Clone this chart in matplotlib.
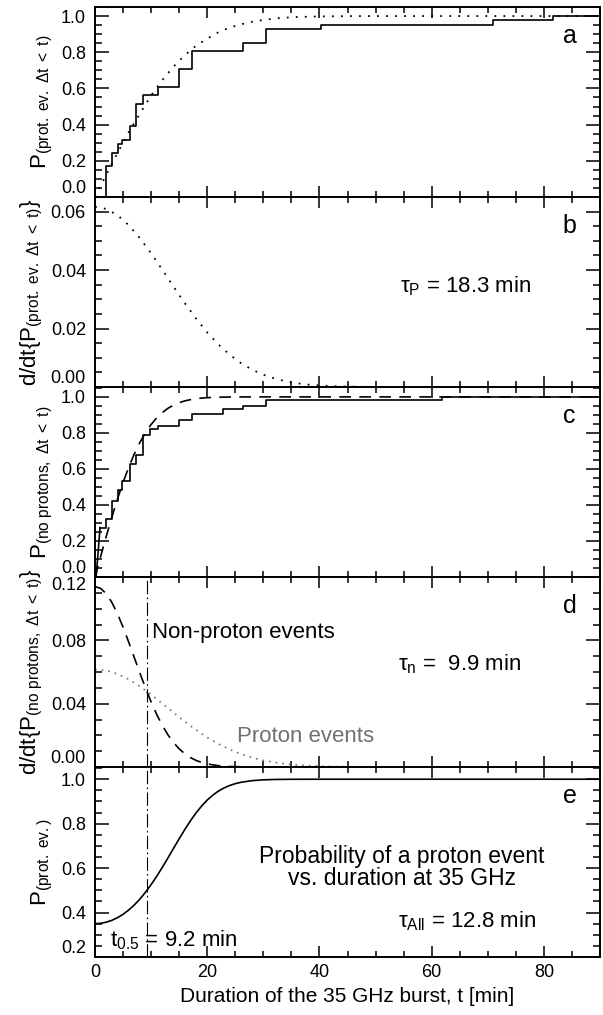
import matplotlib
matplotlib.use("Agg")
import matplotlib.pyplot as plt
from matplotlib.ticker import MultipleLocator

plt.rcParams['font.family'] = ['Liberation Sans', 'DejaVu Sans']
plt.rcParams['mathtext.fontset'] = 'custom'
plt.rcParams['mathtext.rm'] = 'Liberation Sans'
plt.rcParams['mathtext.it'] = 'Liberation Sans:italic'
plt.rcParams['mathtext.bf'] = 'Liberation Sans:bold'

# --- empirical distributions (step functions) ---
# proton events: duration where the cumulative count rises, count after the step
prot_t = [1.96, 3.0, 4.1, 4.8, 6.3, 7.35, 8.55, 11.3, 15.0, 17.2, 26.4, 30.4, 40.3, 71.0, 81.6]
prot_n = [7, 10, 12, 13, 16, 21, 23, 25, 29, 33, 35, 38, 39, 40, 41]
n_prot = 41

# non-proton events
nonp_t = [0.9, 1.96, 3.0, 4.1, 4.8, 6.3, 7.35, 8.55, 9.8, 11.3, 15.0, 17.2, 22.9, 26.4, 30.4, 61.8]
nonp_n = [17, 20, 26, 30, 33, 39, 42, 49, 51, 52, 54, 56, 58, 59, 61, 62]
n_nonp = 62

# --- fitted curves ---
cdf_p_t = [0, 1, 2, 3, 4, 6, 8, 10, 12, 14, 16, 18, 20, 22, 24, 26, 28, 30, 33, 36, 40, 45, 50, 60, 90]
cdf_p = [0, 0.0616, 0.1228, 0.1833, 0.2428, 0.3571, 0.4603, 0.5610, 0.6462, 0.7207, 0.7837, 0.8357,
         0.8753, 0.9108, 0.9364, 0.9541, 0.9684, 0.9784, 0.9893, 0.9946, 0.9979, 0.9995, 0.9999, 1.0, 1.0]

pdf_p_t = [0, 2, 4, 6, 8, 10, 12, 14, 16, 18, 20, 22, 24, 26, 28, 30, 32, 34, 36, 38, 40, 44, 48]
pdf_p = [0.06166, 0.06093, 0.05878, 0.05538, 0.05093, 0.04573, 0.04010, 0.03432, 0.02869, 0.02343,
         0.01867, 0.01453, 0.01105, 0.00819, 0.00592, 0.00419, 0.00289, 0.00195, 0.00128, 0.00082,
         0.00052, 0.00019, 0.00006]

cdf_n_t = [0, 1, 2, 3, 4, 5, 6, 7, 8, 9, 10, 11, 12, 13, 14, 15, 16, 17, 18, 19, 20, 22, 24, 27, 30, 90]
cdf_n = [0, 0.1136, 0.2249, 0.3318, 0.4323, 0.5249, 0.6086, 0.6827, 0.7469, 0.8014, 0.8468, 0.8839,
         0.9130, 0.9367, 0.9545, 0.9679, 0.9778, 0.9848, 0.9899, 0.9934, 0.9957, 0.9983, 0.9994,
         0.9999, 1.0, 1.0]

pdf_n_t = [0, 1, 2, 3, 4, 5, 6, 7, 8, 9, 10, 11, 12, 13, 14, 15, 16, 17, 18, 19, 20, 22, 24, 26, 28, 30]
pdf_n = [0.11398, 0.11282, 0.10942, 0.10398, 0.09681, 0.08831, 0.07894, 0.06914, 0.05932, 0.04988,
         0.04109, 0.03316, 0.02623, 0.02032, 0.01543, 0.01148, 0.00837, 0.00598, 0.00418, 0.00287,
         0.00193, 0.00082, 0.00032, 0.00012, 0.00004, 0.00001]

prob_t = [0, 1, 2, 3, 4, 5, 6, 7, 8, 9, 10, 11, 12, 13, 14, 15, 16, 17, 18, 19, 20, 21, 22, 23, 24,
          25, 26, 28, 30, 32, 35, 40, 90]
prob = [0.350, 0.3516, 0.3566, 0.3649, 0.3768, 0.3921, 0.4112, 0.4340, 0.4608, 0.4914, 0.5257,
        0.5632, 0.6035, 0.6458, 0.6891, 0.7320, 0.7736, 0.8126, 0.8480, 0.8793, 0.9062, 0.9285,
        0.9465, 0.9608, 0.9717, 0.9800, 0.9861, 0.9936, 0.9972, 0.9989, 0.9997, 1.0, 1.0]

t_half = 9.2

fig = plt.figure(figsize=(6.03, 10.15), dpi=100)
gs = fig.add_gridspec(5, 1, left=95/603, right=600/603, top=1-7/1015, bottom=1-957/1015, hspace=0)
axes = [fig.add_subplot(gs[i]) for i in range(5)]

ylims = [(0, 1.05), (0, 0.065), (0, 1.055), (0, 0.12), (0.2, 1.055)]
ymaj = [0.2, 0.02, 0.2, 0.04, 0.2]
ymin = [0.05, 0.005, 0.05, 0.01, 0.05]
yfmt = ['%.1f', '%.2f', '%.1f', '%.2f', '%.1f']
letters = ['a', 'b', 'c', 'd', 'e']

sub_p = r'$_{\rm (prot.\ ev.\ Δt\ <\ t)}$'
sub_n = r'$_{\rm (no\ protons,\ Δt\ <\ t)}$'
ylabels = ['P' + sub_p, 'd/dt{P' + sub_p + '}', 'P' + sub_n, 'd/dt{P' + sub_n + '}',
           r'P$_{\rm (prot.\ ev.)}$']

for i, ax in enumerate(axes):
    ax.set_xlim(0, 90)
    ax.set_ylim(*ylims[i])
    ax.xaxis.set_major_locator(MultipleLocator(20))
    ax.xaxis.set_minor_locator(MultipleLocator(5))
    ax.yaxis.set_major_formatter(matplotlib.ticker.FormatStrFormatter(yfmt[i]))
    ax.tick_params(which='both', direction='in', top=True, right=True, width=1.1)
    ax.tick_params(axis='x', which='major', length=8)
    ax.tick_params(axis='x', which='minor', length=4)
    ax.tick_params(axis='y', which='major', length=10, pad=6.5, labelsize=13)
    ax.tick_params(axis='y', which='minor', length=5)
    ax.tick_params(axis='x', labelsize=13, pad=5)
    for s in ax.spines.values():
        s.set_linewidth(1.4)
    if i < 4:
        ax.tick_params(axis='x', labelbottom=False)
    ax.set_ylabel(ylabels[i], fontsize=16, labelpad=4)
    ax.text(0.94, 0.845, letters[i], transform=ax.transAxes, fontsize=18, ha='center', va='center')

    # fixed y ticks; edge labels kept inside each panel
    lo, hi = ylims[i]
    ticks = [round(lo + k * ymaj[i], 4) for k in range(int((hi - lo) / ymaj[i] + 1e-6) + 1)]
    ax.set_yticks(ticks)
    ax.yaxis.set_minor_locator(MultipleLocator(ymin[i]))
    mt = ax.yaxis.get_major_ticks()
    mt[0].label1.set_va('bottom')
    if i == 3:
        mt[-1].label1.set_va('top')

# panel a
ax = axes[0]
ax.step([0] + prot_t + [90], [0] + [n / n_prot for n in prot_n] + [1.0], where='post', color='k', lw=1.2)
ax.plot(cdf_p_t, cdf_p, color='k', lw=1.3, linestyle=(0, (1, 4)))

# panel b
ax = axes[1]
ax.plot(pdf_p_t, pdf_p, color='k', lw=1.3, linestyle=(0, (1, 4)))
ax.text(0.604, 0.53, 'τ$_{\\rm P}$ = 18.3 min', transform=ax.transAxes, fontsize=16, va='center')

# panel c
ax = axes[2]
ax.plot([0.2, nonp_t[0]], [0, nonp_n[0] / n_nonp], color='k', lw=1.2)
ax.step(nonp_t + [90], [n / n_nonp for n in nonp_n] + [1.0], where='post', color='k', lw=1.2)
ax.plot(cdf_n_t, cdf_n, color='k', lw=1.2, linestyle=(0, (7, 5)))

# panel d
ax = axes[3]
ax.plot(pdf_n_t, pdf_n, color='k', lw=1.2, linestyle=(0, (7, 5)))
ax.plot(pdf_p_t, pdf_p, color='#707070', lw=1.2, linestyle=(0, (1, 3)))
ax.axvline(t_half, color='k', lw=0.8, linestyle=(0, (12, 3, 1.5, 3)))
ax.text(0.112, 0.707, 'Non-proton events', transform=ax.transAxes, fontsize=16, va='center')
ax.text(0.281, 0.163, 'Proton events', transform=ax.transAxes, fontsize=16, va='center', color='#707070')
ax.text(0.6, 0.542, 'τ$_{\\rm n}$ =  9.9 min', transform=ax.transAxes, fontsize=16, va='center')

# panel e
ax = axes[4]
ax.plot(prob_t, prob, color='k', lw=1.2)
ax.axvline(t_half, color='k', lw=0.8, linestyle=(0, (12, 3, 1.5, 3)))
ax.text(0.607, 0.47, 'Probability of a proton event\nvs. duration at 35 GHz', transform=ax.transAxes,
        fontsize=16.5, ha='center', va='center', linespacing=0.95)
ax.text(0.6, 0.19, 'τ$_{\\rm All}$ = 12.8 min', transform=ax.transAxes, fontsize=16, va='center')
ax.text(0.03, 0.088, 't$_{\\rm 0.5}$ = 9.2 min', transform=ax.transAxes, fontsize=16, va='center')
ax.set_xlabel('Duration of the 35 GHz burst, t [min]', fontsize=15, labelpad=4)

fig.savefig('out.png', dpi=100)
